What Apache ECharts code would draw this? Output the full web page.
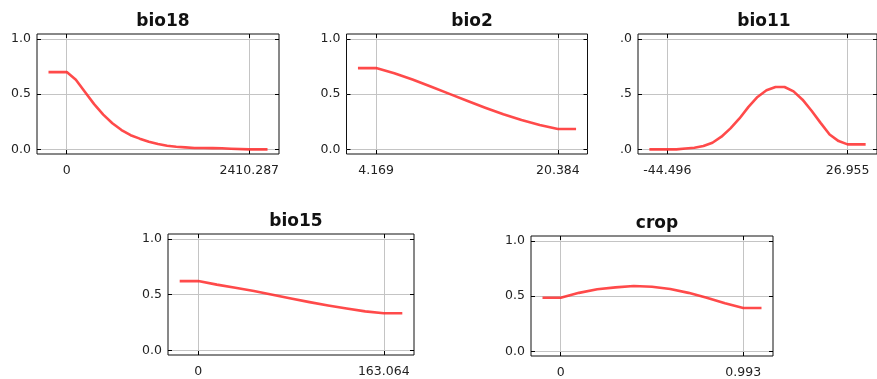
<!DOCTYPE html>
<html>
<head>
<meta charset="utf-8">
<script src="https://cdn.jsdelivr.net/npm/echarts@6/dist/echarts.min.js"></script>
<style>
  html, body { margin: 0; padding: 0; background: #fff; }
  #chart { width: 877px; height: 379px; }
</style>
</head>
<body>
<div id="chart"></div>
<script>
// response curves, one panel per variable
const names = ["bio18", "bio2", "bio11", "bio15", "crop"];

const bio18X = [-241, 0, 120.5, 241, 361.5, 482, 602.6, 723.1, 843.6, 964.1, 1084.6, 1205.1, 1325.7, 1446.2, 1566.7, 1687.2, 1807.7, 1928.2, 2048.7, 2169.3, 2410.287, 2651.3];
const bio18Y = [0.70, 0.70, 0.63, 0.52, 0.41, 0.315, 0.237, 0.175, 0.128, 0.097, 0.069, 0.048, 0.033, 0.024, 0.018, 0.013, 0.012, 0.011, 0.010, 0.006, 0.0, 0.0];

const bio2X = [2.548, 4.169, 5.791, 7.412, 9.034, 10.655, 12.277, 13.898, 15.52, 17.141, 18.763, 20.384, 22.006];
const bio2Y = [0.736, 0.736, 0.69, 0.633, 0.569, 0.505, 0.44, 0.377, 0.318, 0.265, 0.22, 0.185, 0.185];

const bio11X = [-51.641, -44.496, -40.923, -37.351, -33.778, -30.206, -26.633, -23.061, -19.488, -15.916, -12.343, -8.771, -5.198, -1.626, 1.947, 5.52, 9.092, 12.665, 16.237, 19.81, 23.382, 26.955, 34.1];
const bio11Y = [0.0, 0.0, 0.0, 0.008, 0.014, 0.03, 0.06, 0.115, 0.19, 0.28, 0.385, 0.475, 0.535, 0.565, 0.565, 0.525, 0.45, 0.35, 0.24, 0.135, 0.075, 0.045, 0.045];

const bio15X = [-16.306, 0, 16.306, 32.613, 48.919, 65.226, 81.532, 97.838, 114.145, 130.451, 146.758, 163.064, 179.37];
const bio15Y = [0.622, 0.622, 0.59, 0.562, 0.533, 0.5, 0.466, 0.433, 0.403, 0.375, 0.35, 0.333, 0.333];

const cropX = [-0.0993, 0, 0.0993, 0.1986, 0.2979, 0.3972, 0.4965, 0.5958, 0.6951, 0.7944, 0.8937, 0.993, 1.0923];
const cropY = [0.486, 0.486, 0.53, 0.562, 0.58, 0.592, 0.585, 0.565, 0.53, 0.485, 0.435, 0.393, 0.393];

// x ticks: data range ends, and their printed labels
const xTickVals = [[0, 2410.287], [4.169, 20.384], [-44.496, 26.955], [0, 163.064], [0, 0.993]];
const xTickLabels = [["0", "2410.287"], ["4.169", "20.384"], ["-44.496", "26.955"], ["0", "163.064"], ["0", "0.993"]];

const yTickVals = [0, 0.5, 1];
const yTickLabels = ["0.0", "0.5", "1.0"];
const yTickLabelsClipped = [".0", ".5", ".0"]; // bio11 panel: the leading "1"/"0" is hidden

const curves = [[bio18X, bio18Y], [bio2X, bio2Y], [bio11X, bio11Y], [bio15X, bio15Y], [cropX, cropY]];

const boxes = [
    { left: 37, top: 34, width: 242, height: 120 },
    { left: 346.5, top: 34, width: 241, height: 120 },
    { left: 638, top: 34, width: 242, height: 120 },
    { left: 168, top: 234, width: 246, height: 121 },
    { left: 531, top: 236, width: 242, height: 121 },
];

const PAD = 0.163;
const FONT = "DejaVu Sans";

const chart = echarts.init(document.getElementById("chart"));

const grid = [], xAxis = [], yAxis = [], series = [], title = [];

boxes.forEach((b, i) => {
    grid.push({ ...b, show: true, borderColor: "#111", borderWidth: 1, backgroundColor: "#fff" });

    const [lo, hi] = xTickVals[i];
    const span = hi - lo;
    const xMin = lo - PAD * span, xMax = hi + PAD * span;
    const labels = xTickLabels[i];
    const yLabels = i === 2 ? yTickLabelsClipped : yTickLabels;

    const tick = { show: true, inside: true, length: 4, lineStyle: { color: "#000", width: 1 } };

    xAxis.push({
        type: "value", gridIndex: i, min: xMin, max: xMax, position: "bottom",
        axisLine: { show: false, onZero: false },
        axisTick: { ...tick, customValues: xTickVals[i] },
        axisLabel: {
            customValues: xTickVals[i], margin: 10, color: "#222", fontFamily: FONT, fontSize: 12.5,
            formatter: (v) => labels[xTickVals[i].indexOf(v)] ?? "",
        },
        splitLine: { show: true, lineStyle: { color: "#c4c4c4", width: 1 } },
    });
    xAxis.push({
        type: "value", gridIndex: i, min: xMin, max: xMax, position: "top",
        axisLine: { show: false, onZero: false },
        axisTick: { ...tick, customValues: xTickVals[i] },
        axisLabel: { show: false },
        splitLine: { show: false },
    });
    yAxis.push({
        type: "value", gridIndex: i, min: -0.042, max: 1.045, position: "left",
        axisLine: { show: false, onZero: false },
        axisTick: { ...tick, customValues: yTickVals },
        axisLabel: {
            customValues: yTickVals, margin: 6, color: "#222", fontFamily: FONT, fontSize: 12.5,
            formatter: (v) => yLabels[yTickVals.indexOf(v)] ?? "",
        },
        splitLine: { show: true, lineStyle: { color: "#c4c4c4", width: 1 } },
    });
    yAxis.push({
        type: "value", gridIndex: i, min: -0.042, max: 1.045, position: "right",
        axisLine: { show: false, onZero: false },
        axisTick: { ...tick, customValues: yTickVals },
        axisLabel: { show: false },
        splitLine: { show: false },
    });

    const [xs, ys] = curves[i];
    series.push({
        type: "line", xAxisIndex: 2 * i, yAxisIndex: 2 * i,
        data: xs.map((x, k) => [x, ys[k]]),
        symbol: "none", smooth: false, silent: true,
        lineStyle: { color: "#ff2a2a", width: 2.6, opacity: 0.85, join: "round" },
    });

    title.push({
        text: names[i],
        left: b.left + b.width / 2, top: b.top - 26,
        textAlign: "center",
        textStyle: { fontFamily: FONT, fontWeight: "bold", fontSize: 17, color: "#111" },
    });
});

chart.setOption({
    animation: false,
    backgroundColor: "#fff",
    title, grid, xAxis, yAxis, series,
});
</script>
</body>
</html>
